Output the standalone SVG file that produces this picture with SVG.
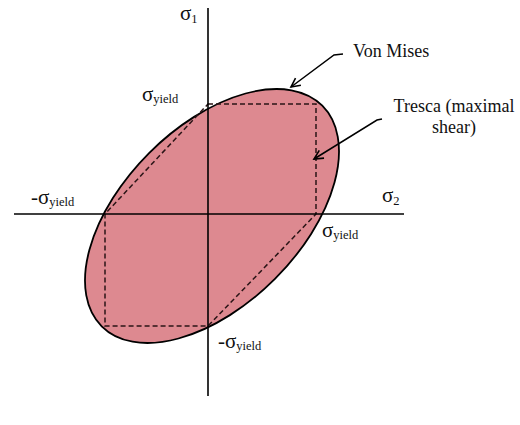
<svg xmlns="http://www.w3.org/2000/svg" width="520" height="425" viewBox="0 0 520 425">
<style>
.ax{stroke:#000;stroke-width:1.6;fill:none}
.dash{stroke:#2a1416;stroke-width:1.5;stroke-dasharray:5,3;fill:none}
.ell{fill:#dd8990;stroke:#000;stroke-width:1.8}
.lead{stroke:#000;stroke-width:1.5;fill:none;marker-end:url(#ah)}
text{font-family:'Liberation Serif','Times New Roman',Times,serif;fill:#111}
.lbl{font-size:18px}
.sg{font-size:21px}
.sub{font-size:12.5px}
</style>
<defs>
<marker id="ah" markerWidth="12" markerHeight="12" refX="10" refY="6" orient="auto" markerUnits="userSpaceOnUse">
<path d="M1,1.5 L10,6 L1,10.5" fill="none" stroke="#000" stroke-width="1.6"/>
</marker>
</defs>
<g id="ellipse">
<ellipse class="ell" cx="212" cy="216" rx="156" ry="89" transform="rotate(-45 212 216)"/>
</g>
<g id="tresca">
<path class="dash" d="M208,104 L316,104 L316,214 L208,326 L105,326 L105,214 Z"/>
</g>
<g id="axes">
<line class="ax" x1="208" y1="8" x2="208" y2="396"/>
<line class="ax" x1="14" y1="214" x2="404" y2="214"/>
</g>
<g id="connectors">
<path class="lead" d="M343,54 L334,55 L291,87"/>
<path class="lead" d="M382,119 L377,120 L314,159"/>
</g>
<g id="labels">
<text class="sg" x="180" y="20">σ<tspan class="sub" dy="3">1</tspan></text>
<text class="sg" x="382" y="202">σ<tspan class="sub" dy="3">2</tspan></text>
<text class="sg" x="142" y="101">σ<tspan class="sub" dy="2">yield</tspan></text>
<text class="sg" x="31" y="204">-σ<tspan class="sub" dy="2">yield</tspan></text>
<text class="sg" x="322" y="237">σ<tspan class="sub" dy="2">yield</tspan></text>
<text class="sg" x="218" y="348">-σ<tspan class="sub" dy="2">yield</tspan></text>
<text class="lbl" x="353" y="57">Von Mises</text>
<text class="lbl" x="454" y="112" text-anchor="middle">Tresca (maximal</text>
<text class="lbl" x="454" y="133" text-anchor="middle">shear)</text>
</g>
</svg>
